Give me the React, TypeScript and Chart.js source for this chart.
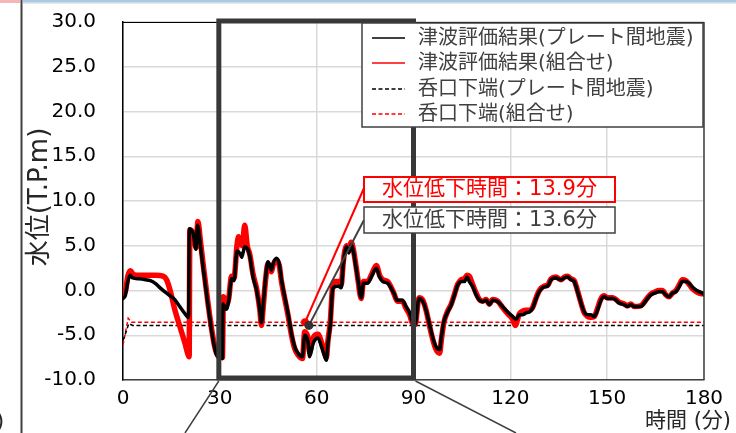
import { useEffect, useRef } from "react";
import { Chart, registerables } from "chart.js";

Chart.register(...registerables);

const FONT = "'DejaVu Sans', 'Noto Sans CJK JP', sans-serif";

// 津波評価結果(プレート間地震): time (min) / water level (T.P.m)
const plateTimes = [
  0, 0.7, 1.5, 2.2, 3, 5, 7, 8.5, 10, 11.5, 13.5, 15, 16, 17.6, 19, 20.3, 20.6, 21.8, 22.6, 23.1,
  24, 24.8, 26.4, 27.9, 28.8, 29.6, 30.2, 30.8, 31.0, 32.0, 32.8, 33.6, 34.4, 35.3, 36.3, 36.8,
  37.7, 38.5, 39.3, 40.3, 41.4, 42.4, 42.9, 43.4, 44.2, 44.9, 45.5, 46.0, 46.5, 47.5, 48.4, 49.1,
  50.1, 51.1, 52.2, 53.2, 54.2, 55.6, 56.3, 57.3, 57.8, 58.9, 60.4, 61.5, 62.5, 63.0, 63.5, 64.2,
  65.0, 66.6, 67.6, 68.2, 68.7, 69.2, 70.0, 70.7, 71.3, 72.0, 72.8, 73.8, 74.5, 75.8, 76.9, 78.5,
  79.5, 80.5, 82.0, 83.9, 85.0, 86.5, 87.7, 88.8, 89.6, 90.5, 91.7, 92.9, 93.9, 95.0, 96.0, 97.0,
  98.1, 98.6, 99.4, 100.6, 101.7, 102.7, 103.7, 104.8, 105.8, 106.6, 107.3, 108.4, 109.4, 110.4,
  111.4, 112.5, 113.5, 114.5, 116.1, 117.6, 119.2, 120.7, 121.8, 122.8, 123.8, 124.9, 125.9,
  126.9, 128.0, 129.0, 130.5, 131.6, 132.6, 134.1, 135.7, 136.7, 137.7, 138.8, 139.8, 140.8,
  141.9, 142.9, 143.9, 144.9, 146.0, 147.0, 148.1, 149.1, 150.1, 151.7, 152.7, 153.7, 155.3,
  156.3, 157.3, 158.4, 160.4, 161.5, 162.5, 163.5, 164.6, 166.1, 167.1, 168.2, 169.2, 170.2,
  171.3, 172.3, 173.3, 174.4, 175.4, 176.4, 177.5, 178.5, 180,
];
const plateLevels = [
  -0.9, -0.6, 1.0, 1.7, 1.4, 1.3, 1.2, 1.1, 0.8, 0.3, -0.3, -0.7, -1.0, -1.8, -2.5, -3.0, 6.9, 6.3, 4.6, 7.3,
  5.0, 2.6, -1.8, -5.5, -7.0, -7.5, -7.4, -7.6, -1.5, -2.1, -1.0, 1.3, 1.1, 4.4, 4.1, 3.7,
  4.9, 4.7, 3.8, 1.5, 0.0, -2.2, -3.6, -1.8, 1.5, 3.2, 2.8, 2.3, 3.0, 3.6, 3.0, 1.2,
  -0.7, -2.5, -4.8, -6.3, -7.0, -7.4, -5.0, -5.7, -7.4, -5.9, -5.3, -6.3, -7.4, -7.8, -5.9, -3.9,
  0.2, 0.5, 0.3, 2.7, 4.2, 4.9, 4.2, 5.1, 4.5, 3.0, 1.2, -0.8, 0.8, 0.8, 1.5, 2.5,
  1.5, 1.0, 0.8, -0.3, -1.1, -1.1, -1.8, -2.5, -3.5, -3.8, -0.9, -1.25, -2.2, -3.85, -5.3, -6.3,
  -6.6, -5.3, -3.5, -2.4, -1.6, -0.5, 0.6, 1.0, 1.0, 1.5, 1.0, 0.4, -0.5, -1.06,
  -1.25, -1.1, -1.6, -1.1, -1.25, -1.8, -2.4, -2.9, -3.2, -2.7, -2.7, -2.5, -2.4,
  -2.0, -0.9, -0.1, 0.4, 0.5, 1.2, 1.4, 1.2, 1.4, 1.5, 1.2, 1.0, -0.1,
  -1.4, -2.4, -2.7, -2.7, -2.9, -2.2, -1.06, -0.7, -0.9, -0.9, -1.06, -1.4, -1.6,
  -1.8, -1.6, -1.8, -1.8, -1.4, -0.9, -0.5, -0.3, -0.13, -0.13, -0.5, -0.7, -0.3,
  -0.13, 0.4, 1.0, 1.0, 0.8, 0.4, 0.05, -0.13, -0.4,
];

// 津波評価結果(組合せ): time (min) / water level (T.P.m)
const comboTimes = [
  0, 0.8, 1.5, 2.3, 3.2, 5, 8, 10, 12.4, 13.5, 14.6, 16.1, 17.6, 19.2, 20.2, 20.5, 20.7, 21.8, 22.6,
  23.2, 24.0, 24.8, 26.4, 27.9, 28.8, 29.6, 30.2, 30.8, 31.1, 32.0, 32.8, 33.6, 34.4, 35.3, 35.8,
  36.5, 37.0, 37.7, 38.5, 39.3, 40.3, 41.4, 42.4, 42.9, 43.4, 44.2, 44.9, 45.5, 46.0, 46.5, 47.5,
  48.4, 49.1, 50.1, 51.1, 52.2, 53.2, 54.2, 55.6, 56.3, 57.3, 57.8, 58.9, 60.4, 61.5, 62.5, 63.0,
  63.5, 64.2, 65.0, 65.8, 67.0, 67.6, 68.2, 68.7, 69.2, 70.0, 70.7, 71.3, 72.0, 72.8, 73.8, 74.5,
  75.8, 76.9, 78.5, 79.5, 80.5, 82.0, 83.9, 85.0, 86.5, 87.7, 88.8, 89.6, 90.5, 91.7, 92.9, 93.9,
  95.0, 96.0, 97.0, 98.1, 98.6, 99.4, 100.6, 101.7, 102.7, 103.7, 104.8, 105.8, 106.6, 107.3,
  108.4, 109.4, 110.4, 111.4, 112.5, 113.5, 114.5, 116.1, 117.6, 119.2, 120.7, 121.5, 122.8,
  123.8, 124.9, 125.9, 126.9, 128.0, 129.0, 130.5, 131.6, 132.6, 134.1, 135.7, 136.7, 137.7,
  138.8, 139.8, 140.8, 141.9, 142.9, 143.9, 144.9, 146.0, 147.0, 148.1, 149.1, 150.1, 151.7,
  152.7, 153.7, 155.3, 156.3, 157.3, 158.4, 160.4, 161.5, 162.5, 163.5, 164.6, 166.1, 167.1,
  168.2, 169.2, 170.2, 171.3, 172.3, 173.3, 174.4, 175.4, 176.4, 177.5, 178.5, 180,
];
const comboLevels = [
  -0.5, 0.0, 1.6, 2.2, 1.8, 1.7, 1.7, 1.7, 1.6, 1.2, 0.0, -2.2, -4.0, -5.9, -7.2, -7.4, 6.8, 6.3, 4.8,
  7.7, 5.5, 3.0, -1.6, -5.3, -6.8, -7.3, -7.2, -7.5, -0.7, -1.7, -0.8, 1.6, 1.4, 5.0, 6.0,
  5.2, 5.0, 7.3, 5.0, 4.0, 1.8, 0.2, -2.2, -3.9, -2.0, 1.3, 3.0, 2.6, 2.1, 2.8, 3.4,
  2.8, 1.0, -0.9, -2.7, -5.0, -6.5, -7.2, -7.6, -4.6, -5.3, -6.9, -5.3, -4.9, -5.8, -7.0, -7.5,
  -5.6, -3.6, 0.6, 1.0, 1.0, 0.6, 3.0, 4.4, 5.0, 4.5, 5.4, 4.7, 3.2, 1.2, -0.9, 1.0,
  1.0, 1.7, 2.8, 1.7, 1.2, 1.0, -0.3, -1.2, -1.2, -2.0, -2.7, -3.6, -3.8, -0.8, -1.1, -2.2,
  -4.0, -5.5, -6.6, -7.0, -5.6, -3.6, -2.3, -1.5, -0.4, 0.7, 1.2, 1.3, 1.7, 1.6,
  0.6, -0.3, -1.0, -1.2, -1.0, -1.5, -1.0, -1.2, -1.9, -2.6, -3.2, -3.9, -2.6,
  -2.3, -2.2, -2.2, -1.9, -0.8, 0.0, 0.5, 0.6, 1.3, 1.5, 1.2, 1.5, 1.6,
  1.3, 1.1, 0.0, -1.4, -2.5, -2.9, -3.0, -2.9, -2.0, -0.9, -0.6, -0.8, -0.8,
  -1.0, -1.3, -1.5, -1.7, -1.5, -1.8, -1.7, -1.3, -0.8, -0.4, -0.2, 0.0, 0.0,
  -0.5, -0.7, -0.3, 0.0, 0.6, 1.2, 1.1, 0.7, 0.2, -0.1, -0.3, -0.4,
];

// 呑口下端 (intake lower end) levels
const plateSillTimes = [0, 0.6, 1.8, 3, 180];
const plateSillLevels = [-5.6, -5.0, -3.7, -3.9, -3.9];
const comboSillTimes = [0, 1.6, 2.6, 180];
const comboSillLevels = [-6.1, -3.1, -3.55, -3.55];

const seriesLabels = [
  "津波評価結果(プレート間地震)",
  "津波評価結果(組合せ)",
  "呑口下端(プレート間地震)",
  "呑口下端(組合せ)",
];

// Where each result first falls below its intake level, and how long it stays there
const comboDropTime = 56.4;
const plateDropTime = 57.6;
const comboDrawdownMinutes = 13.9;
const plateDrawdownMinutes = 13.6;

// Highlighted time window
const windowStart = 30;
const windowEnd = 90;

const xMin = 0;
const xMax = 180;
const xStep = 30;
const yMin = -10;
const yMax = 30;
const yStep = 5;

const xTitle = "時間 (分)";
const yTitle = "水位(T.P.m)";

const zip = (xs: number[], ys: number[]) => xs.map((x, i) => ({ x, y: ys[i] }));

const decorations = {
  id: "decorations",
  beforeDraw(chart: any) {
    const ctx = chart.ctx as CanvasRenderingContext2D;
    ctx.save();
    ctx.fillStyle = "#ffffff";
    ctx.fillRect(0, 0, chart.width, chart.height);
    // sheet edges around the chart object
    ctx.fillStyle = "#f4b6b6";
    ctx.fillRect(0, 0, 20, 3);
    ctx.fillStyle = "#a9cbe9";
    ctx.fillRect(23, 0, chart.width - 23, 2.5);
    ctx.fillStyle = "#d0d0d0";
    ctx.fillRect(23, 2.5, chart.width - 23, 1);
    ctx.fillStyle = "#404040";
    ctx.fillRect(20.5, 0, 2, chart.height);
    ctx.fillStyle = "#262626";
    ctx.font = `21px ${FONT}`;
    ctx.textBaseline = "alphabetic";
    ctx.textAlign = "left";
    ctx.fillText(")", -4, 428);
    ctx.restore();
  },
  afterDatasetsDraw(chart: any) {
    const ctx = chart.ctx as CanvasRenderingContext2D;
    const xs = chart.scales.x;
    const area = chart.chartArea;
    ctx.save();
    // plot frame
    ctx.strokeStyle = "#000000";
    ctx.lineWidth = 1;
    ctx.beginPath();
    ctx.moveTo(area.left, area.top + 0.5);
    ctx.lineTo(area.right, area.top + 0.5);
    ctx.stroke();
    ctx.strokeStyle = "#404040";
    ctx.lineWidth = 1.5;
    ctx.beginPath();
    ctx.moveTo(area.right, area.top);
    ctx.lineTo(area.right, area.bottom);
    ctx.stroke();

    // highlighted window box
    const x0 = xs.getPixelForValue(windowStart);
    const x1 = xs.getPixelForValue(windowEnd);
    ctx.strokeStyle = "#383838";
    ctx.lineWidth = 5;
    ctx.strokeRect(x0 - 1, area.top - 1, x1 - x0 + 1, area.bottom - area.top - 1);

    // connector lines below the window
    ctx.lineWidth = 1.5;
    ctx.strokeStyle = "#404040";
    ctx.beginPath();
    ctx.moveTo(x0 - 1, area.bottom + 1);
    ctx.lineTo(185, chart.height);
    ctx.moveTo(x1 + 2, area.bottom + 1);
    ctx.lineTo(516, chart.height);
    ctx.stroke();
    ctx.restore();
  },
  afterDraw(chart: any) {
    const ctx = chart.ctx as CanvasRenderingContext2D;
    const xs = chart.scales.x;
    const ys = chart.scales.y;
    ctx.save();

    // leader lines and labels for the drawdown times
    const boxLeft = 364;
    const boxWidth = 251;
    const rx = xs.getPixelForValue(comboDropTime);
    const ry = ys.getPixelForValue(comboSillLevels[comboSillLevels.length - 1]);
    const bx = xs.getPixelForValue(plateDropTime);
    const by = ys.getPixelForValue(plateSillLevels[plateSillLevels.length - 1]);
    ctx.lineWidth = 2;
    ctx.strokeStyle = "#ff0000";
    ctx.beginPath();
    ctx.moveTo(rx, ry);
    ctx.lineTo(boxLeft, 188);
    ctx.stroke();
    ctx.strokeStyle = "#404040";
    ctx.beginPath();
    ctx.moveTo(bx, by);
    ctx.lineTo(boxLeft, 220);
    ctx.stroke();
    ctx.fillStyle = "#ff0000";
    ctx.beginPath();
    ctx.arc(rx, ry, 4, 0, Math.PI * 2);
    ctx.fill();
    ctx.fillStyle = "#333333";
    ctx.beginPath();
    ctx.arc(bx, by, 4.5, 0, Math.PI * 2);
    ctx.fill();

    ctx.font = `21px ${FONT}`;
    ctx.textAlign = "center";
    ctx.textBaseline = "middle";
    ctx.fillStyle = "#ffffff";
    ctx.fillRect(boxLeft, 177, boxWidth, 25);
    ctx.strokeStyle = "#ff0000";
    ctx.lineWidth = 2;
    ctx.strokeRect(boxLeft, 177, boxWidth, 25);
    ctx.fillStyle = "#ff0000";
    ctx.fillText(`水位低下時間：${comboDrawdownMinutes.toFixed(1)}分`, boxLeft + boxWidth / 2, 190);

    ctx.fillStyle = "#ffffff";
    ctx.fillRect(boxLeft, 207, boxWidth, 26);
    ctx.strokeStyle = "#404040";
    ctx.lineWidth = 1.5;
    ctx.strokeRect(boxLeft, 207, boxWidth, 26);
    ctx.fillStyle = "#404040";
    ctx.fillText(`水位低下時間：${plateDrawdownMinutes.toFixed(1)}分`, boxLeft + boxWidth / 2, 220.5);

    // legend
    const lg = { x: 362, y: 23, w: 341, h: 104 };
    ctx.font = `20px ${FONT}`;
    ctx.fillStyle = "#ffffff";
    ctx.fillRect(lg.x, lg.y, lg.w, lg.h);
    ctx.strokeStyle = "#404040";
    ctx.lineWidth = 1.5;
    ctx.strokeRect(lg.x, lg.y, lg.w, lg.h);
    const rows = [38, 63, 89, 114];
    const colors = ["#000000", "#ff0000", "#000000", "#ff0000"];
    ctx.textAlign = "left";
    ctx.textBaseline = "middle";
    seriesLabels.forEach((label, i) => {
      ctx.strokeStyle = colors[i];
      ctx.lineWidth = 1.5;
      ctx.setLineDash(i >= 2 ? [4, 2.5] : []);
      ctx.beginPath();
      ctx.moveTo(372, rows[i]);
      ctx.lineTo(405, rows[i]);
      ctx.stroke();
      ctx.setLineDash([]);
      ctx.fillStyle = "#404040";
      ctx.fillText(label, 418, rows[i] + 1);
    });

    // axis titles
    ctx.fillStyle = "#262626";
    ctx.font = `21px ${FONT}`;
    ctx.textAlign = "left";
    ctx.fillText(xTitle, 645, 422);
    ctx.translate(40, 197);
    ctx.rotate(-Math.PI / 2);
    ctx.font = `26px ${FONT}`;
    ctx.textAlign = "center";
    ctx.fillText(yTitle, 0, 0);
    ctx.restore();
  },
};

export default function App() {
  const canvasRef = useRef<HTMLCanvasElement | null>(null);

  useEffect(() => {
    if (!canvasRef.current) return;
    const chart = new Chart(canvasRef.current, {
      type: "line",
      data: {
        datasets: [
          {
            label: seriesLabels[0],
            data: zip(plateTimes, plateLevels),
            borderColor: "#000000",
            borderWidth: 3.5,
            pointRadius: 0,
            cubicInterpolationMode: "monotone",
            borderJoinStyle: "round",
            borderCapStyle: "round",
            order: 1,
          },
          {
            label: seriesLabels[1],
            data: zip(comboTimes, comboLevels),
            borderColor: "#ff0000",
            borderWidth: 5.5,
            pointRadius: 0,
            cubicInterpolationMode: "monotone",
            borderJoinStyle: "round",
            borderCapStyle: "round",
            order: 2,
          },
          {
            label: seriesLabels[2],
            data: zip(plateSillTimes, plateSillLevels),
            borderColor: "#000000",
            borderWidth: 1.5,
            borderDash: [4, 2.5],
            pointRadius: 0,
            order: 3,
          },
          {
            label: seriesLabels[3],
            data: zip(comboSillTimes, comboSillLevels),
            borderColor: "#ff0000",
            borderWidth: 1.5,
            borderDash: [4, 2.5],
            pointRadius: 0,
            order: 4,
          },
        ],
      },
      options: {
        responsive: false,
        animation: false,
        devicePixelRatio: 1,
        layout: { padding: { top: 22, right: 32, left: 0, bottom: 0 } },
        plugins: {
          legend: { display: false },
          tooltip: { enabled: false },
        },
        scales: {
          x: {
            type: "linear",
            min: xMin,
            max: xMax,
            afterFit: (scale: any) => {
              scale.height = 53;
              scale.paddingLeft = 0;
              scale.paddingRight = 0;
            },
            ticks: {
              stepSize: xStep,
              color: "#000000",
              font: { family: FONT, size: 20 },
              padding: 7,
              maxRotation: 0,
            },
            grid: { color: "#d9d9d9", lineWidth: 1.5, drawTicks: false },
            border: { color: "#404040", width: 1.5 },
          },
          y: {
            type: "linear",
            min: yMin,
            max: yMax,
            afterFit: (scale: any) => {
              scale.width = 123;
              scale.paddingTop = 0;
              scale.paddingBottom = 0;
            },
            ticks: {
              stepSize: yStep,
              color: "#000000",
              font: { family: FONT, size: 20 },
              padding: 27,
              callback: (v: any) => Number(v).toFixed(1),
            },
            grid: { color: "#d9d9d9", lineWidth: 1.5, drawTicks: false },
            border: { color: "#000000", width: 1.5 },
          },
        },
      },
      plugins: [decorations],
    });
    return () => chart.destroy();
  }, []);

  return (
    <div
      style={{
        position: "fixed",
        left: 0,
        top: 0,
        width: 736,
        height: 433,
        overflow: "hidden",
        background: "#ffffff",
      }}
    >
      <canvas ref={canvasRef} width={736} height={433} style={{ display: "block" }} />
    </div>
  );
}
